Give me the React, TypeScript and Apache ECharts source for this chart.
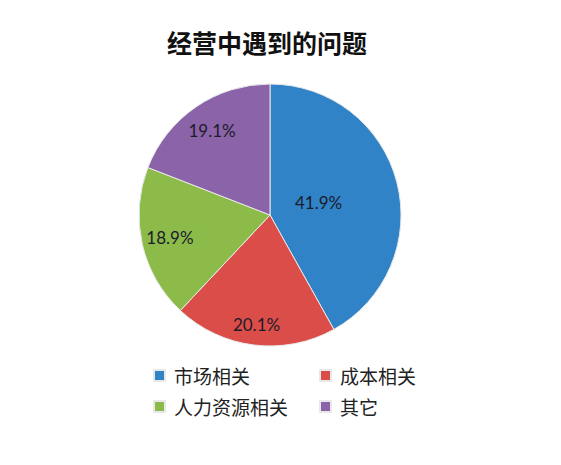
import React, { useEffect, useRef } from 'react';
import * as echarts from 'echarts';

const categories = ['市场相关', '成本相关', '人力资源相关', '其它'];
const values = [41.9, 20.1, 18.9, 19.1];
const colors = ['#2F83C6', '#DB4D48', '#8CBB4A', '#8A63A8'];
// how far out each label sits, as a share of the radius
const labelReach = [0.36, 0.82, 0.76, 0.76];

const RADIUS = 131;

const App: React.FC = () => {
  const chartRef = useRef<HTMLDivElement>(null);

  useEffect(() => {
    if (!chartRef.current) return;
    const myChart = echarts.init(chartRef.current, null, { renderer: 'svg' });

    const total = values.reduce((a, b) => a + b, 0);
    const midAngles: number[] = [];
    let acc = 0;
    values.forEach((v) => {
      midAngles.push(((acc + v / 2) / total) * Math.PI * 2);
      acc += v;
    });

    const legendText = {
      fontFamily: 'Noto Sans CJK SC',
      fontSize: 19,
      color: '#222',
      padding: [0, 0, 0, 4],
    };

    const option = {
      animation: false,
      title: {
        text: '经营中遇到的问题',
        left: 254,
        top: 16,
        textAlign: 'center',
        textStyle: {
          fontFamily: 'Noto Sans CJK SC',
          fontSize: 25,
          fontWeight: 'bold',
          color: '#111',
        },
      },
      legend: [
        {
          orient: 'vertical',
          left: 140,
          top: 353,
          itemGap: 12,
          itemWidth: 11,
          itemHeight: 11,
          icon: 'rect',
          data: [categories[0], categories[2]],
          textStyle: legendText,
        },
        {
          orient: 'vertical',
          left: 306,
          top: 353,
          itemGap: 12,
          itemWidth: 11,
          itemHeight: 11,
          icon: 'rect',
          data: [categories[1], categories[3]],
          textStyle: legendText,
        },
      ],
      color: colors,
      series: [
        {
          type: 'pie',
          center: [262, 207],
          radius: RADIUS,
          startAngle: 90,
          clockwise: true,
          avoidLabelOverlap: false,
          itemStyle: { borderColor: '#e8e8e8', borderWidth: 1 },
          label: {
            position: 'inside',
            formatter: (p: any) => p.value.toFixed(1) + '%',
            fontFamily: 'Lato',
            fontSize: 17,
            color: '#1c1c2a',
          },
          labelLine: { show: false },
          emphasis: { disabled: true },
          labelLayout: (params: any) => {
            const i = params.dataIndex;
            const shift = (labelReach[i] - 0.5) * RADIUS;
            return {
              dx: Math.sin(midAngles[i]) * shift,
              dy: -Math.cos(midAngles[i]) * shift,
            };
          },
          data: categories.map((name, i) => ({ name, value: values[i] })),
        },
      ],
    };
    myChart.setOption(option);
    return () => {
      myChart.dispose();
    };
  }, []);

  return <div ref={chartRef} style={{ width: 545, height: 449 }} />;
};

export default App;
